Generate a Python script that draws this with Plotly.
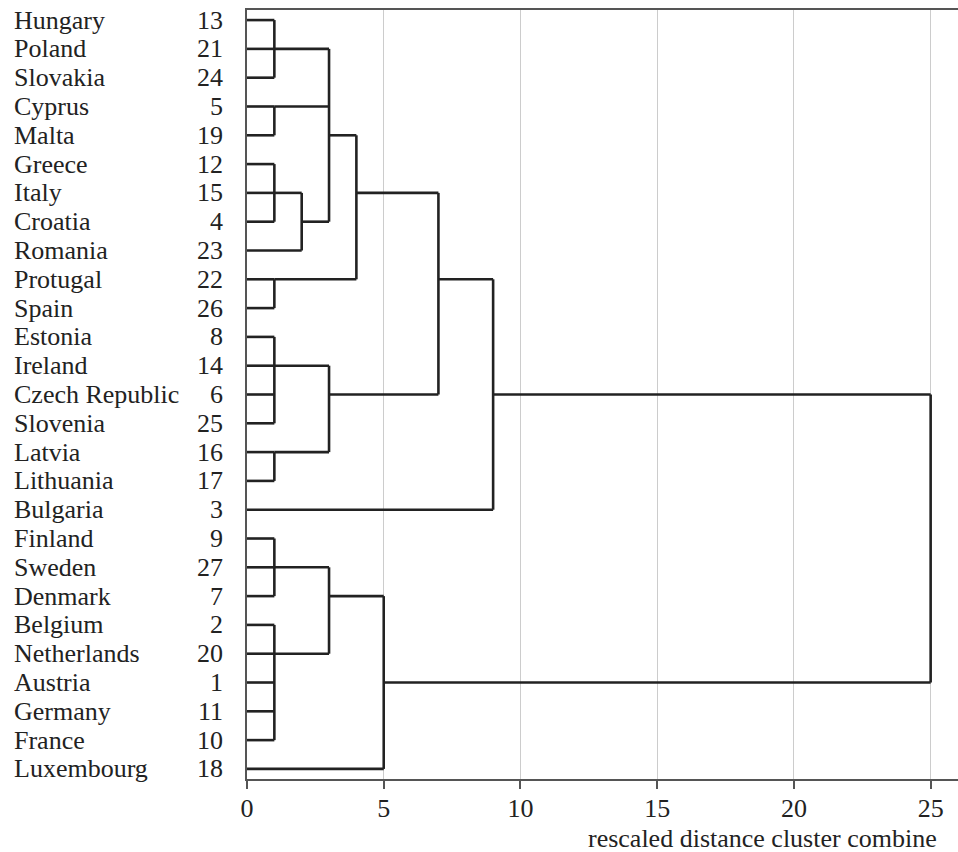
import plotly.graph_objects as go

# ---------------- data ----------------
countries = ["Hungary", "Poland", "Slovakia", "Cyprus", "Malta", "Greece", "Italy",
             "Croatia", "Romania", "Protugal", "Spain", "Estonia", "Ireland",
             "Czech Republic", "Slovenia", "Latvia", "Lithuania", "Bulgaria",
             "Finland", "Sweden", "Denmark", "Belgium", "Netherlands", "Austria",
             "Germany", "France", "Luxembourg"]
case_ids = [13, 21, 24, 5, 19, 12, 15, 4, 23, 22, 26, 8, 14, 6, 25, 16, 17, 3,
            9, 27, 7, 2, 20, 1, 11, 10, 18]

# merges: children (leaf index 0..26, or 27+k for merge k), distance, row of node
merge_children = [
    [0, 1, 2],            # 27
    [3, 4],               # 28
    [5, 6, 7],            # 29
    [29, 8],              # 30
    [27, 28, 30],         # 31
    [9, 10],              # 32
    [31, 32],             # 33
    [11, 12, 13, 14],     # 34
    [15, 16],             # 35
    [34, 35],             # 36
    [33, 36],             # 37
    [37, 17],             # 38
    [18, 19, 20],         # 39
    [21, 22, 23, 24, 25], # 40
    [39, 40],             # 41
    [41, 26],             # 42
    [38, 42],             # 43 root
]
merge_dist = [1, 1, 1, 2, 3, 1, 4, 1, 1, 3, 7, 9, 1, 1, 3, 5, 25]
merge_row = [1, 3, 6, 7, 4, 9, 6, 12, 15, 13, 9, 13, 19, 22, 20, 23, 18]

x_ticks = [0, 5, 10, 15, 20, 25]
x_title = "rescaled distance cluster combine"

# ---------------- build segments ----------------
n = len(countries)
node_x = {i: 0 for i in range(n)}
node_y = {i: i for i in range(n)}
xs, ys = [], []
for k, (ch, d, r) in enumerate(zip(merge_children, merge_dist, merge_row)):
    rows = [node_y[c] for c in ch]
    xs += [d, d, None]
    ys += [min(rows), max(rows), None]
    for c in ch:
        xs += [node_x[c], d, None]
        ys += [node_y[c], node_y[c], None]
    node_x[n + k] = d
    node_y[n + k] = r

FONT = "Liberation Serif, Times New Roman, serif"
TXT = "#222222"
FS = 26

fig = go.Figure()
fig.add_trace(go.Scatter(x=xs, y=ys, mode="lines",
                         line=dict(color="#222222", width=2.6),
                         hoverinfo="skip", showlegend=False))

L, R, T, B = 247, 0, 10, 73
W, H = 958, 852
pw = W - L - R

for i, (name, cid) in enumerate(zip(countries, case_ids)):
    fig.add_annotation(x=(12 - L) / pw, xref="paper", y=i, yref="y",
                       text=name, showarrow=False, xanchor="left", yanchor="middle",
                       font=dict(family=FONT, size=FS, color=TXT))
    fig.add_annotation(x=(225 - L) / pw, xref="paper", y=i, yref="y",
                       text=str(cid), showarrow=False, xanchor="right", yanchor="middle",
                       font=dict(family=FONT, size=FS, color=TXT))

fig.add_annotation(x=(939 - L) / pw, xref="paper", y=0, yref="paper", yshift=-59,
                   text=x_title, showarrow=False, xanchor="right", yanchor="middle",
                   font=dict(family=FONT, size=FS, color=TXT))

fig.update_layout(
    width=W, height=H,
    margin=dict(l=L, r=R, t=T, b=B),
    plot_bgcolor="white", paper_bgcolor="white",
    xaxis=dict(range=[0, 26], tickvals=x_ticks, ticks="outside", ticklen=8,
               tickcolor="#555555", tickwidth=1.5, ticklabelstandoff=-3,
               showgrid=True, gridcolor="#cccccc", gridwidth=1,
               showline=True, linecolor="#555555", linewidth=1.8, mirror=True,
               zeroline=False,
               tickfont=dict(family=FONT, size=FS, color=TXT)),
    yaxis=dict(range=[26.35, -0.35], showticklabels=False, ticks="",
               showgrid=False, zeroline=False,
               showline=True, linecolor="#555555", linewidth=1.8),
)

fig.write_html("out.html", config={"displayModeBar": False},
               post_script="document.body.style.margin='0';")
